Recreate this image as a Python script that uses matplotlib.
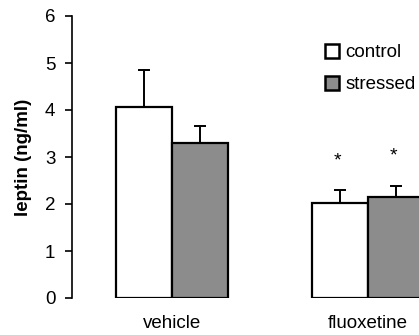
import numpy as np
import matplotlib
matplotlib.use('Agg')
import matplotlib.pyplot as plt
from matplotlib.patches import Patch

plt.rcParams['font.family'] = ['Liberation Sans', 'DejaVu Sans']

# Data
groups = ['vehicle', 'fluoxetine']
control_mean = [4.07, 2.02]
control_sem = [0.78, 0.27]
stressed_mean = [3.30, 2.15]
stressed_sem = [0.35, 0.23]
series = ['control', 'stressed']
# significance marks (asterisk heights)
star_y_control = [None, 2.92]
star_y_stressed = [None, 3.03]

fig = plt.figure(figsize=(4.19, 3.35), dpi=100)
ax = fig.add_axes([72 / 419, 37 / 335, 347 / 419, 282 / 335])

centers = np.array([0, 3.5])
w = 1.0
lw = 1.6
fs = 13.5

ax.bar(centers - w / 2, control_mean, w, color='white', edgecolor='black', linewidth=lw, zorder=2)
ax.bar(centers + w / 2, stressed_mean, w, color='#8c8c8c', edgecolor='black', linewidth=lw, zorder=2)

ax.errorbar(centers - w / 2, control_mean, yerr=[np.zeros(2), control_sem], fmt='none',
            ecolor='black', elinewidth=1.4, capsize=4.5, capthick=1.4, zorder=1)
ax.errorbar(centers + w / 2, stressed_mean, yerr=[np.zeros(2), stressed_sem], fmt='none',
            ecolor='black', elinewidth=1.4, capsize=4.5, capthick=1.4, zorder=1)

for i in range(2):
    if star_y_control[i] is not None:
        ax.text(centers[i] - w / 2 - 0.05, star_y_control[i], '*', ha='center', va='center', fontsize=14)
    if star_y_stressed[i] is not None:
        ax.text(centers[i] + w / 2 - 0.05, star_y_stressed[i], '*', ha='center', va='center', fontsize=14)

ax.set_xlim(-1.79, 4.41)
ax.set_ylim(0, 6)
ax.set_yticks(range(7))
ax.set_xticks(centers)
ax.set_xticklabels(groups, fontsize=fs)
ax.tick_params(axis='x', length=0, pad=12)
ax.tick_params(axis='y', length=5, width=1.2, pad=7, labelsize=fs)
for s in ['top', 'right', 'bottom']:
    ax.spines[s].set_visible(False)
ax.spines['left'].set_linewidth(1.2)
ax.set_ylabel('leptin (ng/ml)', fontsize=fs, fontweight='bold', labelpad=9)

handles = [Patch(facecolor='white', edgecolor='black', linewidth=1.8),
           Patch(facecolor='#8c8c8c', edgecolor='black', linewidth=1.8)]
ax.legend(handles, series, loc='upper left', bbox_to_anchor=(325 / 419, 1 - 44 / 335),
          bbox_transform=fig.transFigure, frameon=False, fontsize=fs,
          handlelength=0.75, handleheight=0.75, handletextpad=0.35, labelspacing=0.78,
          borderaxespad=0, borderpad=0)

fig.savefig('out.png', dpi=100)
